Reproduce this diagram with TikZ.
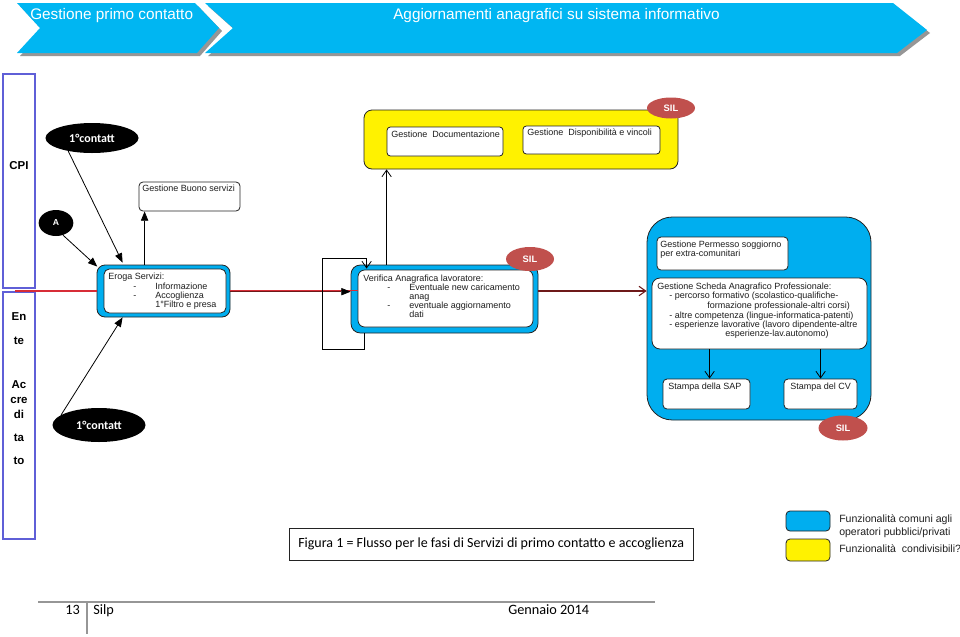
\documentclass[tikz,border=0pt]{standalone}
\usepackage{fontspec}
\setmainfont{Liberation Sans}
\newfontfamily\calfont{Carlito}
\usetikzlibrary{arrows.meta,fit,shapes.geometric}
\definecolor{hdblue}{RGB}{0,182,242}
\definecolor{cyanbox}{RGB}{0,174,239}
\definecolor{silred}{RGB}{192,80,77}
\definecolor{lanecol}{RGB}{95,95,215}
\definecolor{redln}{RGB}{215,45,55}
\definecolor{darkredln}{RGB}{110,25,25}
\definecolor{edgecol}{RGB}{35,35,35}
\definecolor{txtcol}{RGB}{30,30,30}
\definecolor{shadowgr}{RGB}{150,150,150}
\definecolor{footgr}{RGB}{150,150,150}
\tikzset{
  sm/.style={font=\fontsize{6.75}{8}\selectfont, text=txtcol, inner sep=0pt, anchor=west, text height=5pt, text depth=1.4pt},
  hdr/.style={font=\fontsize{11.5}{13}\selectfont, text=white, inner sep=0pt, anchor=west},
  lane/.style={draw=lanecol, line width=0.9pt, inner sep=0pt},
  lanelbl/.style={font=\bfseries\fontsize{8.6}{10}\selectfont, inner sep=0pt, text height=6.3pt, text depth=0pt},
  wbox/.style={draw=edgecol, fill=white, line width=0.6pt, rounded corners=3pt, inner sep=0pt},
  cbox/.style={draw=edgecol, fill=cyanbox, line width=0.6pt, inner sep=0pt},
  ybox/.style={draw=edgecol, fill=yellow, line width=0.6pt, inner sep=0pt, rounded corners=6pt},
  blk/.style={ellipse, fill=black, text=white, inner sep=0pt, font=\calfont\bfseries\fontsize{9}{10}\selectfont},
  sil/.style={ellipse, fill=silred, text=white, inner sep=0pt, font=\bfseries\fontsize{7}{8}\selectfont},
  legtxt/.style={font=\fontsize{7.9}{9}\selectfont, text=txtcol, inner sep=0pt, anchor=west, text height=5.8pt, text depth=1.6pt},
  foot/.style={font=\calfont\fontsize{10.7}{12}\selectfont, inner sep=0pt, text height=7.5pt, text depth=2pt},
  farrow/.style={-{Triangle[length=7pt,width=5.5pt,color=black]}, line width=0.6pt, draw=black},
  oarrow/.style={-{Straight Barb[length=5pt,width=7pt]}, line width=0.6pt, draw=black},
}
\begin{document}
\begin{tikzpicture}[x=0.75pt,y=-0.75pt]
\useasboundingbox (0,0) rectangle (960,636);
\fill[white] (0,0) rectangle (960,636);

% header chevrons
\fill[shadowgr] (20,6) -- (198,6) -- (222,31) -- (200,56) -- (20,56) -- (43,31) -- cycle;
\fill[hdblue] (17,3) -- (195,3) -- (219,28) -- (197,53) -- (17,53) -- (40,28) -- cycle;
\fill[shadowgr] (208,6) -- (896,6) -- (930,33) -- (900,56) -- (208,56) -- (236,31) -- cycle;
\fill[hdblue] (205,3) -- (893,3) -- (927,30) -- (897,53) -- (205,53) -- (233,28) -- cycle;
\node[hdr] (h1) at (30,16) {Gestione primo contatto};
\node[hdr] (h2) at (393,16) {Aggiornamenti anagrafici su sistema informativo};

% lanes
\node[lane, fit={(3,74) (35,288)}] (cpi) {};
\node[lane, fit={(3,292) (35,539)}] (ente) {};
\node[lanelbl] (lcpi) at (19,165) {CPI};
\node[lanelbl] (l1) at (19,316) {En};
\node[lanelbl] (l2) at (19,340) {te};
\node[lanelbl] (l3) at (19,384) {Ac};
\node[lanelbl] (l4) at (19,399) {cre};
\node[lanelbl] (l5) at (19,414) {di};
\node[lanelbl] (l6) at (19,437) {ta};
\node[lanelbl] (l7) at (19,460) {to};

% red line start
\coordinate (rst) at (15,291);

% ellipses left
\node[blk, minimum width=69.75pt, minimum height=22.5pt] (c1) at (92,138) {1°contatt};
\node[blk, minimum width=26pt, minimum height=19.5pt, font=\bfseries\fontsize{6.5}{7}\selectfont] (A) at (56,223) {A};
\node[blk, minimum width=69.75pt, minimum height=25.5pt] (c2) at (99,425) {1°contatt};

% Buono
\node[wbox, fit={(139,182) (240,211)}] (buono) {};
\node[sm] (tbuono) at (142,189) {Gestione Buono servizi};

% Eroga
\node[cbox, rounded corners=6pt, fit={(97,265) (230,317)}] (ero) {};
\node[wbox, rounded corners=4pt, fit={(104,269) (226,313)}] (eroin) {};
\node[sm] (te1) at (108,277) {Eroga Servizi:};
\node[sm] (te2) at (133,287) {-};
\node[sm] (te3) at (155,287) {Informazione};
\node[sm] (te4) at (133,296) {-};
\node[sm] (te5) at (155,296) {Accoglienza};
\node[sm] (te6) at (155,305) {1°Filtro e presa};

% Verifica
\node[cbox, rounded corners=7pt, fit={(351,265) (538,333)}] (ver) {};
\node[wbox, rounded corners=5pt, fit={(358,270) (533,327)}] (verin) {};
\node[sm] (tv1) at (363,279) {Verifica Anagrafica lavoratore:};
\node[sm] (tv2) at (387,288) {-};
\node[sm] (tv3) at (409,288) {Eventuale new caricamento};
\node[sm] (tv4) at (409,297) {anag};
\node[sm] (tv5) at (387,306) {-};
\node[sm] (tv6) at (409,306) {eventuale aggiornamento};
\node[sm] (tv7) at (409,315) {dati};

% Yellow group
\node[ybox, fit={(364,110) (678,169)}] (yel) {};
\node[wbox, rounded corners=2.5pt, fit={(387,127) (503,156)}] (doc) {};
\node[sm] (tdoc) at (391,135) {Gestione\ \ Documentazione};
\node[wbox, rounded corners=2.5pt, fit={(523,126) (660,154)}] (disp) {};
\node[sm] (tdisp) at (527,133) {Gestione\ \ Disponibilità e vincoli};

% Big blue group
\node[cbox, rounded corners=19pt, fit={(647,217) (871,420)}] (big) {};
\node[wbox, fit={(657,237) (788,270)}] (perm) {};
\node[sm] (tp1) at (660,245) {Gestione Permesso soggiorno};
\node[sm] (tp2) at (660,254) {per extra-comunitari};
\node[wbox, rounded corners=6pt, fit={(652,278) (867,349)}] (sch) {};
\node[sm] (ts1) at (657,287) {Gestione Scheda Anagrafico Professionale:};
\node[sm] (ts2) at (669,296) {- percorso formativo (scolastico-qualifiche-};
\node[sm] (ts3) at (707,306) {formazione professionale-altri corsi)};
\node[sm] (ts4) at (669,316) {- altre competenza (lingue-informatica-patenti)};
\node[sm] (ts5) at (669,325) {- esperienze lavorative (lavoro dipendente-altre};
\node[sm] (ts6) at (725,334) {esperienze-lav.autonomo)};
\node[wbox, fit={(663,379) (750,409)}] (sap) {};
\node[sm] (tsap) at (668,387) {Stampa della SAP};
\node[wbox, fit={(784,379) (857,409)}] (cv) {};
\node[sm] (tcv) at (790,387) {Stampa del CV};

% SIL ellipses
\node[sil, minimum width=36pt, minimum height=15.75pt] (sil1) at (671,108) {SIL};
\node[sil, minimum width=36pt, minimum height=18pt] (sil2) at (530,259) {SIL};
\node[sil, minimum width=36.75pt, minimum height=18.75pt] (sil3) at (843,428) {SIL};

% connectors
\draw[redln, line width=0.8pt] (rst) -- (ero.west);
\draw[redln, line width=0.7pt] ([yshift=0.6pt]ero.east) -- ([yshift=0.6pt]ero.east -| verin.west);
\draw[farrow, draw=darkredln, line width=0.5pt] ([yshift=-0.5pt]ero.east) -- ([yshift=-0.5pt]ero.east -| ver.west);
\draw[oarrow, draw=darkredln, line width=0.8pt] (ero.east -| ver.east) -- (ero.east -| big.west);
\draw[oarrow] ([xshift=27pt]ver.north west) -- ([xshift=27pt]ver.north west |- yel.south);
\draw[oarrow] ([xshift=10.5pt]ver.south west) -- ++(0,16) -- ++(-42,0) -- ++(0,-91) -- ++(44,0) -- ([xshift=12pt,yshift=-3pt]ver.north west);
\draw[oarrow] ([xshift=43.5pt]sch.south west) -- ([xshift=43.5pt]sch.south west |- sap.north);
\draw[oarrow] ([xshift=126.75pt]sch.south west) -- ([xshift=126.75pt]sch.south west |- cv.north);
\draw[farrow] (c1.209) -- ([xshift=19.5pt,yshift=1.5pt]ero.north west);
\draw[farrow] (A.300) -- ([xshift=0.5pt,yshift=-1.5pt]ero.north west);
\draw[farrow] (c2.165) -- ([xshift=19.5pt]ero.south west);
\draw[farrow] ([xshift=36pt]ero.north west) -- ([xshift=36pt]ero.north west |- buono.south);

% caption
\node[draw=edgecol, line width=0.6pt, inner sep=0pt, fit={(289,528) (693,560)}] (capbox) {};
\node[font=\calfont\fontsize{10.5}{12}\selectfont, anchor=west, inner sep=0pt] (cap) at (298,544) {Figura 1 = Flusso per le fasi di Servizi di primo contatto e accoglienza};

% legend
\node[cbox, rounded corners=3pt, fit={(786,511) (830,531)}] (lgb) {};
\node[ybox, rounded corners=3pt, fit={(786,539) (830,561)}] (lgy) {};
\node[legtxt] (lt1) at (839,520) {Funzionalità comuni agli};
\node[legtxt] (lt2) at (839,533) {operatori pubblici/privati};
\node[legtxt] (lt3) at (839,550) {Funzionalità\ \ condivisibili?};

% footer
\coordinate (fl) at (38,602);
\coordinate (fr) at (655,602);
\coordinate (ft) at (87,602);
\coordinate (fb) at (87,634);
\draw[footgr, line width=0.8pt] (fl) -- (fr);
\draw[footgr, line width=0.8pt] (ft) -- (fb);
\node[foot, anchor=east] (f13) at (80,611) {13};
\node[foot, anchor=west] (fsilp) at (93,611) {Silp};
\node[foot, anchor=west] (fgen) at (508,611) {Gennaio 2014};
\end{tikzpicture}
\end{document}
